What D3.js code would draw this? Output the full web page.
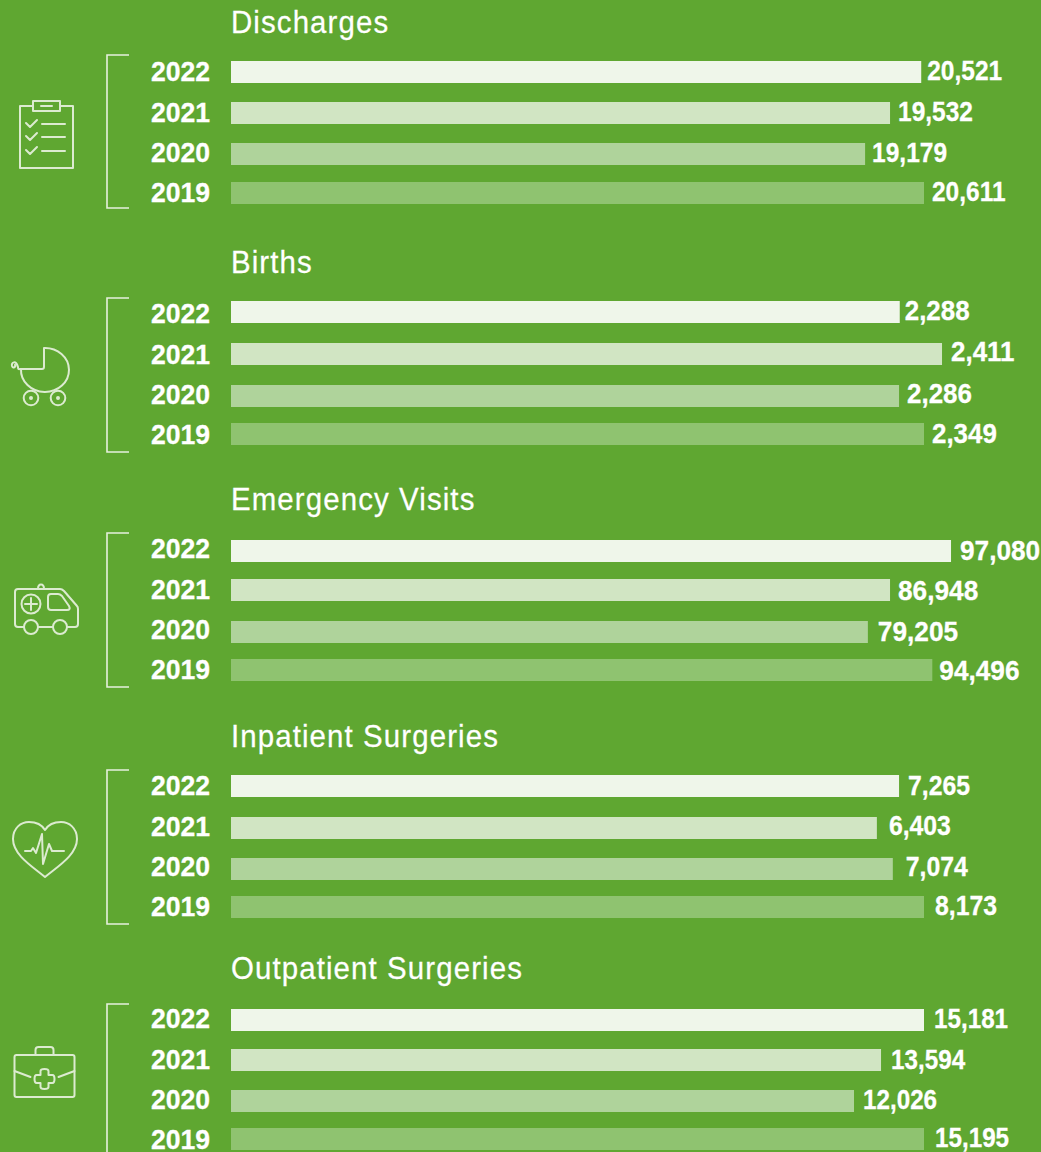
<!DOCTYPE html>
<html>
<head>
  <meta charset="utf-8">
  <title>Hospital activity</title>
  <script src="https://d3js.org/d3.v7.min.js"></script>
  <style>
    html, body { margin: 0; padding: 0; background: #5fa731; overflow: hidden; }
    svg { display: block; }
    .title { font: 400 32px 'Liberation Sans'; fill: #fff; stroke: #fff; stroke-width: .25; letter-spacing: 1.2px; }
    .year { font: 700 28px 'Liberation Sans'; fill: #fff; stroke: #fff; stroke-width: .3; }
    .value { font: 700 28.5px 'Liberation Sans'; fill: #fff; stroke: #fff; stroke-width: .3; }
    .bracket { fill: none; stroke: #e6f1de; stroke-width: 1.6; }
    .icon { fill: none; stroke: #dcebd0; stroke-width: 2; stroke-linecap: round; stroke-linejoin: round; }
  </style>
</head>
<body>
  <div class="chart"></div>
  <script>
    var years = ["2022", "2021", "2020", "2019"];
    var titles = ["Discharges", "Births", "Emergency Visits", "Inpatient Surgeries", "Outpatient Surgeries"];

    // printed numbers
    var discharges = [20521, 19532, 19179, 20611];
    var births = [2288, 2411, 2286, 2349];
    var emergency = [97080, 86948, 79205, 94496];
    var inpatient = [7265, 6403, 7074, 8173];
    var outpatient = [15181, 13594, 12026, 15195];

    // the bars in the original are not to scale with the printed numbers,
    // so their lengths are read off the picture as an index (longest 2019 bar = 100)
    var dischargesBar = [99.6, 95.1, 91.5, 100];
    var birthsBar = [96.5, 102.6, 96.4, 100];
    var emergencyBar = [103.9, 95.1, 91.9, 101.2];
    var inpatientBar = [96.4, 93.2, 95.5, 100];
    var outpatientBar = [100, 93.8, 89.9, 100];

    var allValues = [discharges, births, emergency, inpatient, outpatient];
    var allBars = [dischargesBar, birthsBar, emergencyBar, inpatientBar, outpatientBar];

    // layout of each block
    var layout = [
      {title: 22, bar: [61, 102, 143, 182], year: 71.5, label: [70.5, 111.5, 152.5, 191.5], gap: [6, 8, 7, 8], squeeze: 0.86, top: 55, bottom: 208, icon: [46, 133]},
      {title: 262, bar: [301, 343, 385, 423], year: 313.5, label: [310.5, 351.5, 393.5, 433.5], gap: [5, 9, 8, 8], squeeze: 0.91, top: 298, bottom: 452, icon: [42, 375]},
      {title: 499, bar: [540, 579, 621, 659], year: 548.5, label: [550, 590, 631, 670], gap: [9, 8, 10, 7], squeeze: 0.92, top: 533, bottom: 687, icon: [46, 608]},
      {title: 736, bar: [775, 817, 858, 896], year: 785.5, label: [785.5, 825.5, 866.5, 905.5], gap: [9, 12, 13, 11], squeeze: 0.87, top: 770, bottom: 924, icon: [45, 848]},
      {title: 968, bar: [1009, 1049, 1090, 1128], year: 1018.5, label: [1018.5, 1059.5, 1099.5, 1137.5], gap: [10, 10, 9, 11], squeeze: 0.85, top: 1004, bottom: 1190, icon: [44.5, 1076]}
    ];

    var width = 1041, height = 1152, barHeight = 22;

    var svg = d3.select(".chart").append("svg")
      .attr("width", width)
      .attr("height", height);

    svg.append("rect").attr("width", width).attr("height", height).attr("fill", "#5fa731");

    var x = d3.scaleLinear().domain([0, 100]).range([231, 924]);
    var fill = d3.scaleOrdinal().domain(years).range(["#eff6ea", "#d1e5c3", "#afd39b", "#8fc370"]);
    var fmt = d3.format(",");

    // the original face is condensed, so squeeze the text sideways
    function squeeze(px, py, sx) {
      return "translate(" + px + "," + py + ") scale(" + sx + ",1)";
    }

    // small line icons, drawn around their centre
    var icons = [
      function(g) {
        g.append("path").attr("d", "M-13,-27 H-26 V35 H27 V-27 H14");
        g.append("path").attr("d", "M-13,-32 H14 V-22 H-13 Z M-5,-27 H6");
        [-9, 4, 18].forEach(function(y) {
          g.append("path").attr("d", "M-20," + (y - 1) + " l4,4 l7,-7 M-4," + y + " H19");
        });
      },
      function(g) {
        g.append("path").attr("d", "M2,-27 A24,22 0 1 1 -21,-6 H0 Q2,-6 2,-8 Z M-21,-6 C-23,-6 -24,-5 -24,-8 C-26,-15 -31,-13 -30,-9 C-29,-6 -26,-8 -27,-10");
        g.append("circle").attr("cx", -11).attr("cy", 23).attr("r", 7.3);
        g.append("circle").attr("cx", 16).attr("cy", 23).attr("r", 7.3);
        g.append("circle").attr("cx", -11).attr("cy", 23).attr("r", 1);
        g.append("circle").attr("cx", 16).attr("cy", 23).attr("r", 1);
      },
      function(g) {
        g.append("path").attr("d", "M-22,19 H-28 Q-31,19 -31,16 V-16 Q-31,-19 -28,-19 H14 Q16,-19 18,-17 L31,-2 Q32,-1 32,1 V16 Q32,19 29,19 H21 M7,19 H-8");
        g.append("path").attr("d", "M-8,-19 C-8,-25 -2,-25 -2,-19");
        g.append("circle").attr("cx", -15).attr("cy", -4).attr("r", 9.5);
        g.append("path").attr("d", "M-21,-4 H-9 M-15,-10 V2");
        g.append("path").attr("d", "M2,-11 Q2,-14 5,-14 H12 Q14,-14 16,-12 L23,-2 Q25,2 21,2 H5 Q2,2 2,-1 Z");
        g.append("circle").attr("cx", -15).attr("cy", 19).attr("r", 7);
        g.append("circle").attr("cx", 14).attr("cy", 19).attr("r", 7);
      },
      function(g) {
        g.append("path").attr("d", "M0,29 C-12,19 -32,7 -32,-9 C-32,-20 -24,-26 -16,-26 C-9,-26 -3,-23 0,-18 C3,-23 9,-26 16,-26 C24,-26 32,-20 32,-9 C32,7 12,19 0,29 Z");
        g.append("path").attr("d", "M-20,3 H-14 L-12,0 L-9,5 L-3,-14 L-2,16 L4,-4 L7,3 H19");
      },
      function(g) {
        g.append("path").attr("d", "M-28,-21 Q-30,-21 -30,-19 V19 Q-30,21 -28,21 H28 Q30,21 30,19 V-19 Q30,-21 28,-21 Z");
        g.append("path").attr("d", "M-9,-21 V-26 Q-9,-29 -6,-29 H6 Q9,-29 9,-26 V-21");
        g.append("path").attr("d", "M-30,-5 L-14,1 M30,-5 L14,1");
        g.append("path").attr("d", "M-4,-5 Q-4,-7 0,-7 Q4,-7 4,-5 V-1 H8 Q10,-1 10,3 Q10,7 8,7 H4 V11 Q4,13 0,13 Q-4,13 -4,11 V7 H-8 Q-10,7 -10,3 Q-10,-1 -8,-1 H-4 Z");
      }
    ];

    titles.forEach(function(title, p) {
      var l = layout[p];
      var g = svg.append("g");

      var rows = years.map(function(year, i) {
        return {year: year, value: allValues[p][i], bar: allBars[p][i], top: l.bar[i], label: l.label[i], gap: l.gap[i]};
      });

      // year rows sit on an even grid, the bars do not
      var yearY = d3.scalePoint().domain(years).range([l.year, l.year + 121]);

      g.append("text")
        .attr("class", "title")
        .attr("transform", squeeze(231, l.title, 0.92))
        .attr("dy", ".35em")
        .text(title);

      g.append("path")
        .attr("class", "bracket")
        .attr("d", "M129," + l.top + " H107 V" + l.bottom + " H129");

      icons[p](g.append("g").attr("class", "icon").attr("transform", "translate(" + l.icon[0] + "," + l.icon[1] + ")"));

      g.selectAll(".bar")
        .data(rows)
        .enter().append("rect")
          .attr("class", "bar")
          .attr("x", x(0))
          .attr("y", function(d) { return d.top; })
          .attr("width", function(d) { return x(d.bar) - x(0); })
          .attr("height", barHeight)
          .attr("fill", function(d) { return fill(d.year); });

      g.selectAll(".year")
        .data(rows)
        .enter().append("text")
          .attr("class", "year")
          .attr("transform", function(d) { return squeeze(151, yearY(d.year), 0.95); })
          .attr("dy", ".35em")
          .text(function(d) { return d.year; });

      g.selectAll(".value")
        .data(rows)
        .enter().append("text")
          .attr("class", "value")
          .attr("transform", function(d) { return squeeze(x(d.bar) + d.gap, d.label, l.squeeze); })
          .attr("dy", ".35em")
          .text(function(d) { return fmt(d.value); });
    });
  </script>
</body>
</html>
